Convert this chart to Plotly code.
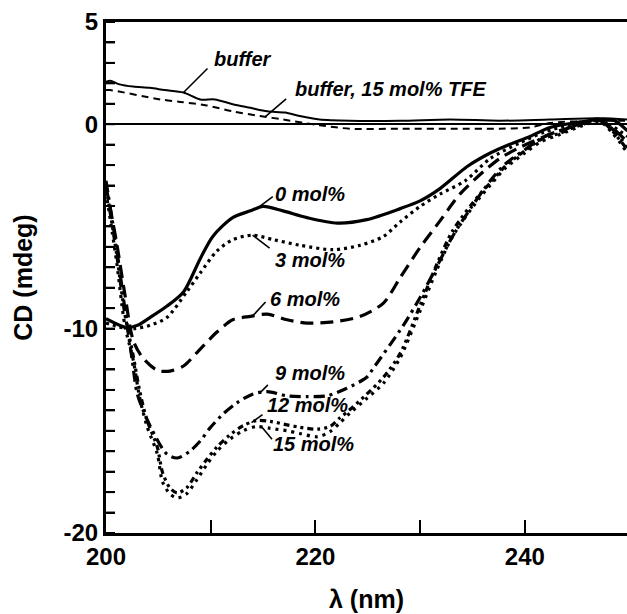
import numpy as np
import plotly.graph_objects as go

# ---------------- data ----------------
wl_0 = [200.0, 202.0, 203.0, 204.2, 205.8, 207.4, 209.0, 210.2, 212.1, 213.8, 215.0, 216.9, 219.2, 222.1,
        224.9, 228.1, 230.0, 231.9, 234.5, 236.7, 238.6, 240.5, 242.4, 245.3, 247.2, 248.6, 249.8]
cd_0 = [-9.51, -9.95, -9.84, -9.46, -8.91, -8.21, -6.58, -5.49, -4.57, -4.24, -4.02, -4.24, -4.57, -4.84,
        -4.67, -4.13, -3.75, -3.15, -2.07, -1.41, -0.98, -0.60, -0.16, 0.11, 0.23, 0.17, -0.33]

wl_3 = [200.0, 202.0, 202.8, 204.2, 205.8, 207.7, 209.0, 210.6, 212.1, 214.0, 216.0, 218.5, 221.7, 224.3,
        226.5, 228.1, 230.0, 231.9, 234.3, 236.7, 239.5, 241.9, 244.3, 247.2, 249.8]
cd_3 = [-9.73, -10.0, -10.0, -9.84, -9.46, -8.21, -7.28, -6.20, -5.65, -5.43, -5.65, -5.92, -6.14, -5.92,
        -5.49, -4.78, -4.02, -3.42, -2.77, -1.68, -0.92, -0.38, -0.05, 0.17, -0.60]

wl_6 = [200.0, 201.0, 201.8, 202.6, 203.5, 204.9, 206.1, 207.4, 209.0, 210.6, 212.1, 213.8, 215.4, 217.3,
        219.2, 221.7, 224.3, 226.5, 228.1, 230.0, 231.9, 233.8, 236.0, 237.6, 239.5, 241.9, 244.3, 247.2, 249.8]
cd_6 = [-3.04, -5.76, -8.32, -10.58, -11.42, -12.04, -12.08, -11.83, -11.0, -10.17, -9.57, -9.40, -9.29, -9.57,
        -9.73, -9.67, -9.40, -8.75, -7.50, -6.03, -4.73, -3.42, -2.34, -1.68, -1.14, -0.60, -0.16, 0.17, -0.87]

wl_9 = [200.0, 201.0, 201.8, 202.5, 203.0, 204.2, 205.8, 206.8, 208.0, 209.0, 209.9, 211.2, 212.5, 214.0,
        215.4, 217.3, 219.2, 221.1, 223.0, 224.9, 225.5, 228.4, 230.0, 231.6, 233.1, 234.8, 236.7, 238.1,
        240.0, 241.9, 244.3, 247.2, 249.8]
cd_9 = [-2.77, -6.03, -9.02, -11.54, -13.21, -14.75, -16.13, -16.33, -16.0, -15.5, -14.88, -14.17, -13.63, -13.21,
        -13.08, -13.29, -13.33, -13.29, -12.92, -12.38, -11.96, -9.84, -8.48, -6.96, -5.49, -4.13, -2.77, -1.96,
        -1.25, -0.60, -0.16, 0.23, -1.14]

wl_12 = [200.0, 201.0, 201.8, 202.6, 203.2, 203.9, 204.9, 205.4, 206.1, 206.8, 207.7, 208.7, 209.6, 210.6,
         211.8, 213.1, 214.4, 215.7, 217.3, 218.5, 220.2, 221.4, 222.3, 223.3, 224.9, 226.5, 228.1, 230.0,
         231.6, 233.1, 235.7, 236.7, 238.1, 240.0, 241.5, 243.4, 245.3, 247.2, 249.8]
cd_12 = [-3.04, -6.30, -9.29, -11.33, -13.0, -14.46, -15.79, -17.04, -17.79, -18.04, -17.79, -17.04, -16.42, -15.79,
         -15.21, -14.75, -14.50, -14.54, -14.71, -14.83, -14.92, -14.79, -14.38, -13.96, -13.21, -12.38, -11.21, -8.86,
         -6.85, -5.22, -3.42, -2.88, -2.07, -1.30, -0.76, -0.43, -0.05, 0.17, -1.25]

wl_15 = wl_12
cd_15 = [-3.32, -6.68, -9.84, -11.54, -13.33, -14.75, -16.13, -17.5, -18.08, -18.29, -18.08, -17.38, -16.67, -16.0,
         -15.42, -15.0, -14.79, -14.88, -15.0, -15.13, -15.29, -15.04, -14.63, -14.13, -13.42, -12.67, -11.42, -9.13,
         -7.12, -5.49, -3.59, -2.99, -2.17, -1.41, -0.87, -0.49, -0.11, 0.11, -1.41]

wl_buf = [200.0, 200.4, 201.3, 202.6, 204.2, 205.6, 207.4, 209.0, 210.4, 212.1, 213.8, 215.4, 217.1, 218.5,
          220.4, 223.3, 228.1, 232.9, 237.6, 242.4, 247.2, 249.8]
cd_buf = [2.07, 2.13, 1.95, 1.84, 1.78, 1.67, 1.55, 1.21, 1.21, 0.98, 0.80, 0.63, 0.57, 0.40,
          0.23, 0.17, 0.17, 0.23, 0.17, 0.23, 0.29, 0.23]

wl_tfe = [200.0, 200.4, 205.2, 207.1, 209.6, 212.1, 214.7, 216.9, 220.4, 223.3, 228.1, 232.9, 237.6, 240.5,
          242.4, 247.2, 249.8]
cd_tfe = [1.67, 1.67, 1.21, 1.09, 0.92, 0.63, 0.40, 0.23, -0.05, -0.22, -0.22, -0.22, -0.22, -0.16,
          0.06, 0.17, 0.17]

curve_names = ["buffer", "buffer, 15 mol% TFE", "0 mol%", "3 mol%", "6 mol%", "9 mol%", "12 mol%", "15 mol%"]
x_ticks = [200, 210, 220, 230, 240]
x_ticktext = ["200", "", "220", "", "240"]
y_labels = {5: "5", 0: "0", -10: "-10", -20: "-20"}
y_ticks = list(range(5, -21, -1))
y_ticktext = [y_labels.get(v, "") for v in y_ticks]

# ---------------- layout constants ----------------
W, H = 627, 614
ML, MR, MT, MB = 106, 0, 22, 81
XR = [200, 249.76]
YR = [-20, 5]
FONT = "Liberation Sans, Arial, Helvetica, sans-serif"
pxx = (W - ML - MR) / (XR[1] - XR[0])   # px per nm
pxy = (H - MT - MB) / (YR[1] - YR[0])   # px per mdeg
YTICK_LEN = 9 / (W - ML - MR)           # inward tick length as a fraction of the plot width

series = [
    (wl_buf, cd_buf, dict(color="black", width=2)),
    (wl_tfe, cd_tfe, dict(color="black", width=2, dash="7px,5px")),
    (wl_0, cd_0, dict(color="black", width=3.2)),
    (wl_3, cd_3, dict(color="black", width=3.2, dash="3px,4px")),
    (wl_6, cd_6, dict(color="black", width=3.2, dash="13px,7px")),
    (wl_9, cd_9, dict(color="black", width=3.2, dash="11px,5px,3px,5px")),
    (wl_12, cd_12, dict(color="black", width=3.2, dash="6px,4px,3px,4px,3px,4px")),
    (wl_15, cd_15, dict(color="black", width=3.2, dash="3px,5px")),
]

fig = go.Figure()
for (wl, cd, ln), name in zip(series, curve_names):
    fig.add_trace(go.Scatter(x=wl, y=cd, mode="lines", line=ln, name=name,
                             line_shape="spline", line_smoothing=0.8, showlegend=False))

# label placement: (wavelength of leader point, leader start offset px, text offset px, anchor)
label_geom = [
    (207.4, (24, -24), (60, -34), "center"),
    (215.2, (21, -18), (28, -28), "left"),
    (214.4, (16, -12), (16, -15), "left"),
    (214.0, (17, 13), (20, 25), "left"),
    (214.0, (13, -14), (15, -17), "left"),
    (214.7, (8, -8), (13, -20), "left"),
    (213.9, (11, -8), (13, -18), "left"),
    (214.9, (10, 12), (9, 17), "left"),
]

shapes = []
annotations = []
for (wl, cd, _), name, (lam, (lx, ly), (tx, ty), anc) in zip(series, curve_names, label_geom):
    yv = float(np.interp(lam, wl, cd))
    x0 = lam + lx / pxx
    y0 = yv - ly / pxy
    shapes.append(dict(type="line", xref="x", yref="y", x0=x0, y0=y0, x1=lam, y1=yv,
                       line=dict(color="black", width=1.6)))
    annotations.append(dict(x=lam, y=yv, xref="x", yref="y", text="<b><i>%s</i></b>" % name,
                            showarrow=False, xshift=tx, yshift=-ty, xanchor=anc, yanchor="middle",
                            font=dict(family=FONT, size=20, color="black")))

# inward tick marks on the left axis, one per y tick value (positioned by the y scale)
for v in y_ticks:
    shapes.append(dict(type="line", xref="paper", yref="y", x0=0, x1=YTICK_LEN, y0=v, y1=v,
                       layer="above", line=dict(color="black", width=2)))

fig.update_layout(
    width=W, height=H,
    margin=dict(l=ML, r=MR, t=MT, b=MB),
    paper_bgcolor="white", plot_bgcolor="white",
    shapes=shapes, annotations=annotations,
    xaxis=dict(range=XR, tickmode="array", tickvals=x_ticks, ticktext=x_ticktext,
               ticks="inside", ticklen=13, tickwidth=2, tickcolor="black",
               showline=True, linewidth=3, linecolor="black", mirror=True,
               showgrid=False, zeroline=False, ticklabelstandoff=0,
               tickfont=dict(family=FONT, size=24, color="black", weight="bold"),
               title=dict(text="<b>λ (nm)</b>", standoff=22,
                          font=dict(family=FONT, size=25, color="black"))),
    yaxis=dict(range=YR, tickmode="array", tickvals=y_ticks, ticktext=y_ticktext,
               ticks="inside", ticklen=9, tickwidth=2, tickcolor="black",
               showline=True, linewidth=3, linecolor="black", mirror=False,
               showgrid=False, zeroline=True, zerolinewidth=2, zerolinecolor="black",
               tickfont=dict(family=FONT, size=24, color="black", weight="bold"),
               title=dict(text="<b>CD (mdeg)</b>", standoff=24,
                          font=dict(family=FONT, size=25, color="black"))),
)

fig.write_html("out.html")
